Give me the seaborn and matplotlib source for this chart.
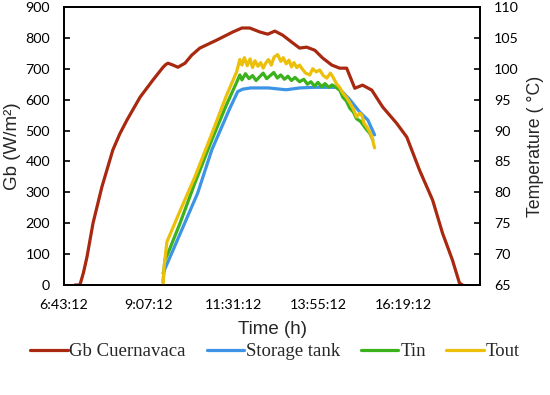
import pandas as pd
import matplotlib
matplotlib.use("Agg")
import matplotlib.pyplot as plt
from matplotlib.ticker import FuncFormatter, MultipleLocator
import seaborn as sns

# Solar irradiance Gb (W/m2), time in decimal hours
gb_time = [7.03, 7.17, 7.27, 7.37, 7.54, 7.79, 8.10, 8.30, 8.50, 8.87, 9.23, 9.52, 9.60,
           9.66, 9.80, 9.94, 10.14, 10.33, 10.56, 11.04, 11.49, 11.75, 11.97, 12.26,
           12.48, 12.68, 12.90, 13.16, 13.38, 13.58, 13.81, 14.03, 14.29, 14.51, 14.71,
           14.94, 15.16, 15.42, 15.73, 16.12, 16.41, 16.77, 17.14, 17.42, 17.70, 17.90,
           17.99]
gb_vals = [0, 0, 40, 91, 200, 317, 437, 490, 534, 608, 663, 705, 714,
           718, 712, 705, 718, 744, 767, 793, 819, 832, 832, 819,
           812, 822, 809, 786, 767, 770, 760, 735, 712, 702, 702,
           637, 647, 631, 576, 524, 479, 372, 275, 168, 81, 6,
           0]

# Storage tank temperature (°C)
tank_time = [9.52, 10.50, 10.90, 11.40, 11.63, 11.77, 12.00, 12.50, 13.00, 13.38,
             13.80, 14.20, 14.43, 14.60, 14.80, 15.08, 15.31, 15.50]
tank_vals = [66.9, 79.9, 86.9, 93.5, 96.3, 96.7, 96.9, 96.9, 96.6, 96.9,
             97.0, 97.0, 97.0, 96.2, 95.0, 93.0, 91.7, 89.3]

# Inlet temperature Tin (°C)
tin_time = [9.52, 9.57, 9.65, 10.00, 10.42, 10.90, 11.30, 11.60, 11.69, 11.75, 11.85,
            11.95, 12.05, 12.15, 12.25, 12.35, 12.45, 12.55, 12.65, 12.75, 12.85, 12.95,
            13.05, 13.15, 13.25, 13.38, 13.50, 13.60, 13.70, 13.80, 13.90, 14.00, 14.10,
            14.20, 14.30, 14.43, 14.52, 14.60, 14.70, 14.80, 14.90, 14.99, 15.10, 15.28,
            15.36, 15.45]
tin_vals = [65.5, 69.0, 70.0, 75.0, 81.5, 88.5, 94.0, 97.8, 99.0, 98.2, 99.2,
            98.4, 98.9, 98.1, 98.7, 99.3, 98.4, 98.9, 99.4, 98.5, 99.0, 98.3,
            98.8, 98.1, 98.6, 97.9, 98.3, 97.5, 97.9, 97.2, 97.8, 97.1, 97.6,
            97.0, 97.4, 96.9, 96.5, 95.4, 94.8, 93.6, 93.0, 91.9, 91.5, 90.1,
            89.6, 88.5]

# Outlet temperature Tout (°C)
tout_time = [9.52, 9.55, 9.63, 10.00, 10.42, 10.90, 11.30, 11.60, 11.69, 11.75, 11.82,
             11.90, 11.98, 12.05, 12.12, 12.20, 12.28, 12.35, 12.42, 12.50, 12.58, 12.66,
             12.76, 12.85, 12.92, 13.00, 13.08, 13.15, 13.22, 13.30, 13.38, 13.45, 13.55,
             13.67, 13.75, 13.85, 13.95, 14.05, 14.15, 14.25, 14.32, 14.43, 14.51, 14.60,
             14.70, 14.80, 14.90, 14.99, 15.08, 15.14, 15.20, 15.28, 15.36, 15.42, 15.50]
tout_vals = [65.0, 68.0, 72.0, 77.0, 82.5, 89.5, 95.5, 99.5, 101.5, 100.6, 101.8,
             100.5, 101.6, 100.2, 101.3, 100.4, 101.0, 100.1, 100.9, 101.5, 100.6, 101.9,
             102.3, 101.2, 101.8, 100.8, 101.4, 100.3, 101.0, 100.2, 100.6, 100.0, 99.3,
             99.0, 100.0, 99.5, 99.8, 98.9, 98.5, 99.3, 98.7, 97.5, 97.0, 96.1,
             95.4, 94.5, 93.5, 92.2, 92.8, 92.5, 91.2, 90.6, 89.8, 89.0, 87.2]

x_ticks = [6.72, 9.12, 11.52, 13.92, 16.32]

c_gb = "#a8290f"
c_tank = "#3d94e6"
c_tin = "#3bb21c"
c_tout = "#ecc00a"

sns.set_style("white")
plt.rcParams['font.family'] = ['Liberation Sans', 'DejaVu Sans']


def hms(v, pos=None):
    total = int(round(v * 3600))
    h, rem = divmod(total, 3600)
    m, s = divmod(rem, 60)
    return f"{h}:{m:02d}:{s:02d}"


fig = plt.figure(figsize=(5.5, 3.95), dpi=100)
ax = fig.add_axes([64 / 550, 1 - 285 / 395, 416 / 550, 278 / 395])
ax2 = ax.twinx()

gb_df = pd.DataFrame({"t": gb_time, "v": gb_vals})
sns.lineplot(data=gb_df, x="t", y="v", ax=ax, color=c_gb, lw=2.3, label="Gb Cuernavaca",
             legend=False)
sns.lineplot(x=tank_time, y=tank_vals, ax=ax2, color=c_tank, lw=2.3, label="Storage tank",
             legend=False)
sns.lineplot(x=tin_time, y=tin_vals, ax=ax2, color=c_tin, lw=2.3, label="Tin", legend=False)
sns.lineplot(x=tout_time, y=tout_vals, ax=ax2, color=c_tout, lw=2.3, label="Tout",
             legend=False)

ax.set_xlim(6.72, 18.48)
ax.set_ylim(0, 900)
ax2.set_ylim(65, 110)
ax.yaxis.set_major_locator(MultipleLocator(100))
ax2.yaxis.set_major_locator(MultipleLocator(5))
ax.set_xticks(x_ticks)
ax.xaxis.set_major_formatter(FuncFormatter(hms))

for a in (ax, ax2):
    for sp in a.spines.values():
        sp.set_color("black")
        sp.set_linewidth(1.3)
    a.tick_params(direction="in", length=4, width=1.2, colors="black", labelsize=10.3,
                  pad=10)
    for lab in a.get_xticklabels() + a.get_yticklabels():
        lab.set_fontfamily("Lato")

ax.set_xlabel("Time (h)", fontsize=13.5, labelpad=7)
ax.set_ylabel("Gb (W/m²)", fontsize=13.5, labelpad=3)
ax2.set_ylabel("Temperature ( °C)", fontsize=12.8, labelpad=6)

h1, l1 = ax.get_legend_handles_labels()
h2, l2 = ax2.get_legend_handles_labels()
fig.legend(h1 + h2, l1 + l2, loc="center", bbox_to_anchor=(0.5, 0.11), ncol=4,
           frameon=False, prop={"family": "Liberation Serif", "size": 13.5},
           handlelength=2.0, handletextpad=0.1, columnspacing=1.1)

fig.savefig("out.png", dpi=100)
